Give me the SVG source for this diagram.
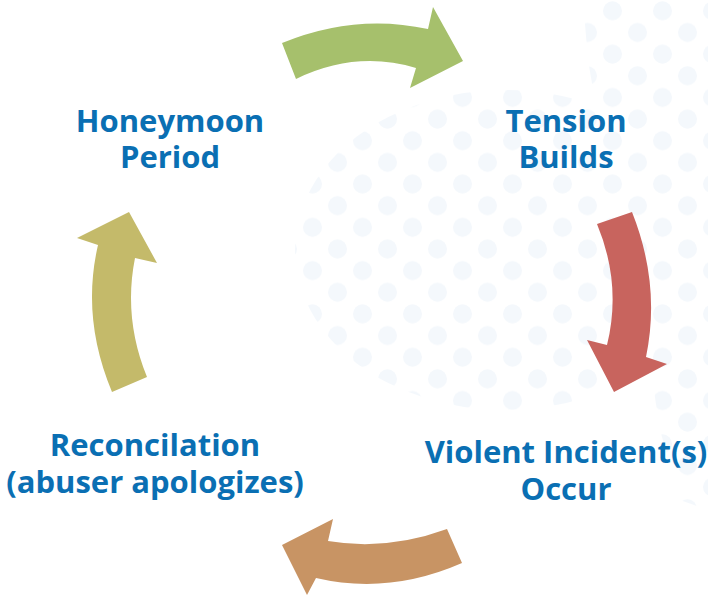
<svg xmlns="http://www.w3.org/2000/svg" width="708" height="596" viewBox="0 0 708 596">
  <style>
    .lbl { font-family: "Open Sans", "Noto Sans", "Liberation Sans", sans-serif; font-weight: 700; font-size: 31px; fill: #0a6fb3; text-anchor: middle; }
    .dots { fill: url(#dotPat); }
  </style>
  <defs>
    <pattern id="dotPat" x="0" y="0" width="50" height="43.3" patternUnits="userSpaceOnUse">
      <circle cx="12.5" cy="10.8" r="9.5" fill="#f4f8fc"/>
      <circle cx="37.5" cy="32.5" r="9.5" fill="#f4f8fc"/>
    </pattern>
    <clipPath id="dotClip">
      <ellipse cx="505" cy="250" rx="210" ry="160"/>
      <polygon points="583,0 708,0 708,510 680,500 660,430 640,300 600,130 588,60"/>
    </clipPath>
  </defs>
  <rect width="708" height="596" fill="#ffffff"/>
  <g id="background-dots" clip-path="url(#dotClip)">
    <rect class="dots" x="280" y="0" width="428" height="520"/>
  </g>
  <g id="connectors">
    <path id="arrow-green" d="M282,43 Q355,13 428,29 L433,7 L463,61 L410,88 L416,68 Q356,50 296,79 Z" fill="#a6c06c"/>
    <path id="arrow-red" d="M597,224 L632,212 Q661,285 646,357 L667,364 L614,392 L587,340 L607,345 Q622,284 597,224 Z" fill="#c8645e"/>
    <path id="arrow-brown" d="M447,529 L462,563 Q389,595 316,578 L307,595 L282,545 L333,519 L328,541 Q387,551 447,529 Z" fill="#c89464"/>
    <path id="arrow-olive" d="M112,392 L147,377 Q123,318 135,258 L157,263 L129,212 L77,238 L98,245 Q81,318 112,392 Z" fill="#c4ba6a"/>
  </g>
  <g id="node-honeymoon">
    <text class="lbl"><tspan x="170" y="132">Honeymoon</tspan><tspan x="170" y="168">Period</tspan></text>
  </g>
  <g id="node-tension">
    <text class="lbl"><tspan x="566" y="132">Tension</tspan><tspan x="566" y="168">Builds</tspan></text>
  </g>
  <g id="node-violent">
    <text class="lbl"><tspan x="566" y="463">Violent Incident(s)</tspan><tspan x="566" y="500">Occur</tspan></text>
  </g>
  <g id="node-reconcilation">
    <text class="lbl"><tspan x="155" y="456">Reconcilation</tspan><tspan x="155" y="493">(abuser apologizes)</tspan></text>
  </g>
</svg>
